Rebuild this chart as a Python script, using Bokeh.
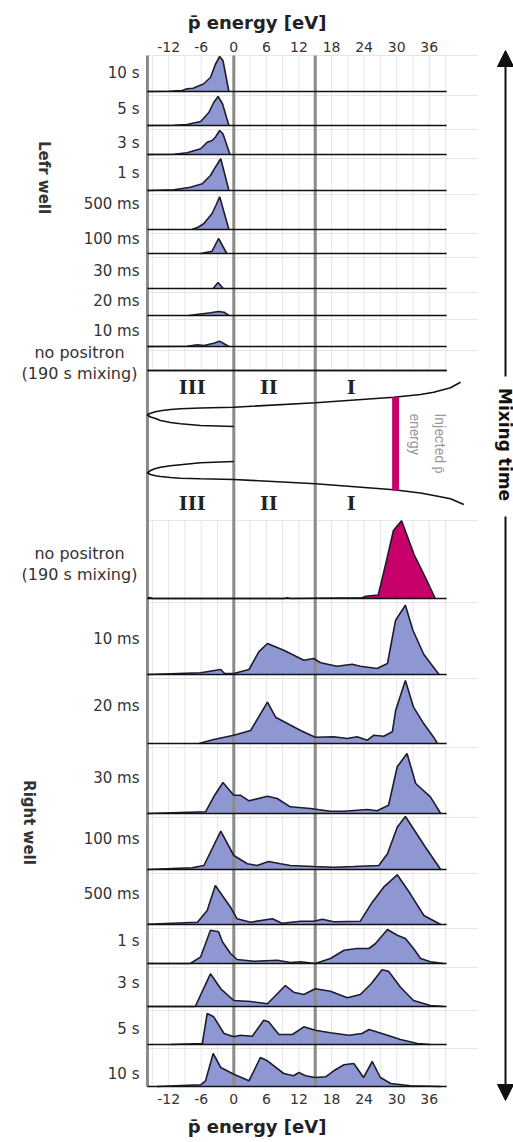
import numpy as np
from bokeh.plotting import figure
from bokeh.models import Range1d, LinearAxis, FixedTicker, Arrow, NormalHead
from bokeh.core.properties import value
from bokeh.embed import file_html
from bokeh.resources import INLINE

# ---------------------------------------------------------------- data
# energy axis (eV)
energy_ticks = [-12, -6, 0, 6, 12, 18, 24, 30, 36]
region_walls = [0, 15]            # III | II | I boundaries
injected_energy = 29.8            # injected antiproton energy

# Left well spectra: energies (eV) and counts (a.u.)
L10s_E = [-15.9, -12.0, -9.5, -8.6, -7.5, -5.6, -4.3, -3.4, -2.6, -2.0, -0.9]
L10s_C = [0, 0.3, 1.0, 2.8, 3.3, 7.5, 14, 27, 35, 31, 0]
L5s_E = [-15.9, -11.0, -8.6, -6.1, -4.6, -3.7, -2.9, -2.1, -0.9]
L5s_C = [0, 0.2, 1.0, 4.0, 13, 23, 29, 22, 0]
L3s_E = [-15.9, -11.0, -8.6, -6.1, -4.9, -4.0, -3.4, -2.6, -2.0, -0.7]
L3s_C = [0, 0.2, 1.7, 5.7, 12.3, 14, 17.3, 24, 20.7, 0]
L1s_E = [-15.9, -11.0, -8.0, -5.8, -4.3, -3.4, -2.4, -0.9]
L1s_C = [0, 0.7, 3.3, 6.7, 15, 23.3, 31.7, 0]
L500ms_E = [-7.7, -6.5, -5.5, -4.0, -3.3, -2.6, -0.9]
L500ms_C = [0, 2.5, 6, 16, 24, 32.7, 0]
L100ms_E = [-6.1, -4.0, -2.8, -1.3]
L100ms_C = [0, 2.3, 15, 0]
L30ms_E = [-3.8, -2.9, -1.95]
L30ms_C = [0, 6, 0]
L20ms_E = [-8.3, -4.3, -2.8, -1.8, -0.9]
L20ms_C = [0, 2.7, 4, 3.3, 0]
L10ms_E = [-15.9, -8.6, -6.7, -5.5, -3.7, -2.6, -0.9]
L10ms_C = [0, 0.3, 1.7, 1, 3.3, 5.3, 0]
LNP_E = [-15.9, 39.2]
LNP_C = [0, 0]

# Right well spectra
RNP_E = [-15.9, -15.5, -15.0, 9.3, 9.8, 10.5, 23.6, 24.3, 26.6, 28.0, 29.4, 30.9, 33.2, 35.2, 37.1]
RNP_C = [0, 1, 0, 0, 0.7, 0, 0.7, 2.3, 3.5, 35, 68, 77.7, 44, 22, 0]
R10ms_E = [-15.9, -6.1, -2.4, -1.7, 0.0, 2.8, 4.6, 6.2, 9.2, 12.9, 14.7, 16.0, 19.0, 21.8,
           23.3, 26.4, 28.3, 29.8, 31.6, 33.0, 35.0, 37.8]
R10ms_C = [0, 1.7, 5, 1, 1, 5, 22.7, 31, 24.3, 14.3, 16, 11.7, 8.3, 10.3,
           8.3, 6, 11, 54.3, 69.3, 44, 20, 0]
R20ms_E = [-6.4, -3.7, 0.0, 3.1, 6.2, 7.7, 12.3, 15.0, 18.4, 20.9, 22.7, 24.6, 25.8, 27.6,
           29.2, 29.8, 31.6, 33.1, 35.0, 36.8, 37.5]
R20ms_C = [0, 4, 8.3, 13, 41.3, 26.3, 13, 6.3, 6.7, 5, 6.7, 3.3, 8.3, 7.3,
           11.7, 33, 63, 36.3, 19.7, 6.3, 0]
R30ms_E = [-15.9, -5.2, -3.7, -2.0, 0.0, 1.2, 2.8, 6.2, 8.0, 10.4, 14.1, 17.8, 20.3, 24.6,
           26.4, 28.5, 30.1, 31.9, 33.5, 36.2, 38.1]
R30ms_C = [0, 1.7, 16.7, 31, 18.3, 18.3, 12.7, 17.3, 15, 6.7, 5, 2.3, 2.3, 4,
           2.7, 8.3, 46.7, 60, 30, 16.7, 0]
R100ms_E = [-15.9, -7.7, -5.5, -2.4, 0.0, 2.5, 4.3, 6.4, 8.6, 10.4, 14.7, 18.4, 22.1, 26.7,
            28.3, 30.1, 31.6, 35.3, 38.1]
R100ms_C = [0, 1.7, 4, 38.3, 14, 5.7, 4, 8, 5.7, 4, 3, 2.3, 3, 4,
            15.7, 42.3, 53, 22.3, 0]
R500ms_E = [-15.9, -6.7, -4.9, -3.4, -0.6, 0.6, 3.1, 7.1, 8.9, 12.3, 14.7, 16.3, 18.4, 23.3,
            25.3, 27.6, 30.1, 32.5, 35.0, 38.1]
R500ms_C = [0.3, 2.3, 14, 39, 17.3, 5.7, 2.3, 5.7, 1.3, 3.3, 3.3, 5.3, 2.7, 3.3,
            20.7, 37.3, 49.7, 30.7, 9, 0]
R1s_E = [-15.9, -8.0, -6.1, -4.3, -2.8, -2.1, -0.6, 0.6, 3.7, 8.0, 10.4, 12.3, 15.0, 17.8,
         20.3, 22.7, 24.9, 26.1, 28.3, 30.1, 31.6, 33.1, 34.4, 36.2, 38.7]
R1s_C = [0, 0, 6.7, 33.3, 31.7, 21.7, 10, 4, 2.3, 3.3, 1, 1.7, 0, 5,
         13.3, 15, 15, 20, 34, 28.3, 25, 15, 5, 1.7, 0]
R3s_E = [-15.9, -7.1, -4.3, -2.4, 0.0, 3.1, 6.2, 9.5, 11.0, 12.9, 15.0, 17.8, 20.9, 23.3,
         25.3, 27.3, 28.5, 30.7, 33.1, 36.2, 38.7]
R3s_C = [0, 0, 32.7, 17.7, 6, 5, 2.7, 21, 14.3, 12, 17.7, 15.3, 8.7, 12,
         22.7, 36.7, 35.3, 19.3, 6, 1, 0]
R5s_E = [-11.7, -5.8, -4.9, -3.7, -1.8, 0.0, 1.2, 3.4, 5.5, 6.4, 8.3, 10.8, 12.9, 15.0,
         17.8, 21.2, 23.6, 24.9, 28.3, 30.7, 33.8, 36.2]
R5s_C = [0, 1, 31, 27.7, 11, 7.7, 9.3, 8.3, 24.3, 22.7, 10, 10, 17.7, 14.3,
         11.7, 9.3, 11, 15, 9.3, 5, 1, 0]
R10s_E = [-14.1, -6.1, -5.2, -3.8, -2.4, 0.0, 2.8, 4.9, 6.2, 9.2, 11.0, 12.0, 13.2, 15.0,
          16.9, 18.4, 20.3, 22.1, 23.9, 25.5, 27.0, 28.9, 32.5, 38.1]
R10s_C = [0, 1.7, 5.7, 33, 19, 12.3, 5.7, 29, 25.7, 13, 10.7, 14, 10.7, 9,
          9.7, 15.7, 21.7, 23, 9, 25, 9, 3, 0.7, 0]

left_labels = ["10 s", "5 s", "3 s", "1 s", "500 ms", "100 ms", "30 ms", "20 ms", "10 ms", None]
left_spectra = [(L10s_E, L10s_C), (L5s_E, L5s_C), (L3s_E, L3s_C), (L1s_E, L1s_C),
                (L500ms_E, L500ms_C), (L100ms_E, L100ms_C), (L30ms_E, L30ms_C),
                (L20ms_E, L20ms_C), (L10ms_E, L10ms_C), (LNP_E, LNP_C)]
right_labels = [None, "10 ms", "20 ms", "30 ms", "100 ms", "500 ms", "1 s", "3 s", "5 s", "10 s"]
right_spectra = [(RNP_E, RNP_C), (R10ms_E, R10ms_C), (R20ms_E, R20ms_C), (R30ms_E, R30ms_C),
                 (R100ms_E, R100ms_C), (R500ms_E, R500ms_C), (R1s_E, R1s_C),
                 (R3s_E, R3s_C), (R5s_E, R5s_C), (R10s_E, R10s_C)]

# schematic trap potential (energy in eV vs. position along the trap)
POT_UPPER_E = [0.0, -6.13, -9.82, -11.66, -13.50, -14.42, -15.33, -15.95, -15.33, -14.42,
               -13.50, -11.66, -9.82, -6.13, 0.0, 15.05, 29.47, 34.38, 36.83, 39.91, 41.75]
POT_UPPER_Z = [426, 425, 423.3, 422, 420, 418, 416.5, 414.3, 412.7, 411.3,
               410.2, 409, 408.3, 407.5, 406.7, 402.3, 396.7, 394, 391.7, 387.3, 381.7]
POT_LOWER_E = [0.0, -6.13, -9.82, -11.66, -13.50, -14.42, -15.33, -15.95, -15.33, -14.42,
               -13.50, -11.66, -9.82, -6.13, 0.0, 15.05, 29.47, 34.38, 36.83, 39.91, 42.36]
POT_LOWER_Z = [461, 462.3, 464.3, 465.3, 466.7, 468, 470, 472.3, 474, 475.2,
               476, 477, 477.7, 478.3, 479, 483.3, 489.3, 492.5, 495, 498.3, 504]

# ---------------------------------------------------------------- layout
W, H = 513, 1142
PX_PER_EV = 5.43
ZERO_PX = 233.3
E_LEFT, E_RIGHT = -15.9, 39.2
E_GRID_RIGHT = 44.9
TOP, BOTTOM = 55, 1086
GAP_TOP, GAP_BOTTOM = 370, 520           # schematic potential band

left_base = [91, 125, 154, 190, 229, 253, 288, 315, 346, 370]
right_base = [598, 674, 743, 813, 869, 924, 963, 1006, 1044, 1086]
left_label_y = [72, 108, 142, 172, 203, 238, 270, 300, 330, None]
right_label_y = [None, 638, 705, 777, 838, 893, 940, 982, 1028, 1073]

FILL = "#8f97d3"
MAGENTA = "#c8006a"
EDGE = "#1c1c2c"
TEXT = "#333333"
FAINT = "#e6e6e6"
WALL = "#8a8a8a"

p = figure(width=W, height=H,
           x_range=Range1d(-ZERO_PX / PX_PER_EV, (W - ZERO_PX) / PX_PER_EV),
           y_range=Range1d(H, 0),
           output_backend="svg", toolbar_location=None,
           x_axis_type=None, y_axis_type=None, min_border=0,
           outline_line_color=None, background_fill_color="white",
           border_fill_color="white")
p.extra_x_ranges = {"px": Range1d(0, W)}
p.xgrid.visible = False
p.ygrid.visible = False

# faint panel grid
grid_e = [e for e in range(-15, 40, 3) if e not in region_walls]
for y0, y1 in [(TOP, GAP_TOP), (GAP_BOTTOM, BOTTOM)]:
    p.segment(x0=grid_e, y0=[y0] * len(grid_e), x1=grid_e, y1=[y1] * len(grid_e),
              line_color=FAINT, line_width=1)
panel_tops = [TOP] + [b + 4 for b in left_base[:-1]] + [GAP_BOTTOM] + [b + 4 for b in right_base[:-1]]
p.segment(x0=[E_LEFT] * len(panel_tops), y0=panel_tops,
          x1=[E_GRID_RIGHT] * len(panel_tops), y1=panel_tops,
          line_color=FAINT, line_width=1)

# spectra fills
for bases, spectra, fill in [(left_base, left_spectra, FILL), (right_base, right_spectra, None)]:
    for i, (b, (e, c)) in enumerate(zip(bases, spectra)):
        col = fill if fill else (MAGENTA if i == 0 else FILL)
        top = [b - v for v in c]
        p.varea(x=e, y1=[b] * len(e), y2=top, fill_color=col)

# region walls
walls = [E_LEFT] + region_walls
p.segment(x0=walls, y0=[TOP] * 3, x1=walls, y1=[BOTTOM] * 3, line_color=WALL, line_width=3)

# spectra outlines and baselines
for bases, spectra in [(left_base, left_spectra), (right_base, right_spectra)]:
    for b, (e, c) in zip(bases, spectra):
        p.line(x=e, y=[b - v for v in c], line_color=EDGE, line_width=1.6)
    p.segment(x0=[E_LEFT] * len(bases), y0=bases, x1=[E_RIGHT] * len(bases), y1=bases,
              line_color="#111111", line_width=1.6)

# trap potential schematic
p.line(x=POT_UPPER_E, y=POT_UPPER_Z, line_color="#111111", line_width=1.6)
p.line(x=POT_LOWER_E, y=POT_LOWER_Z, line_color="#111111", line_width=1.6)
p.segment(x0=[injected_energy], y0=[396.7], x1=[injected_energy], y1=[490],
          line_color=MAGENTA, line_width=7)


def put_text(x, y, txt, size, align="right", bold=False, angle=0.0,
             font="DejaVu Sans", color=TEXT):
    p.text(x=[x], y=[y], text=[txt], x_range_name="px", text_align=align,
           text_baseline="middle", text_font=value(font), text_font_size=size,
           text_font_style="bold" if bold else "normal", angle=angle, text_color=color)


for lab, y in zip(left_labels, left_label_y):
    if lab:
        put_text(139, y, lab, "15px")
for lab, y in zip(right_labels, right_label_y):
    if lab:
        put_text(139, y, lab, "15px")
for y0 in (352, 553):
    put_text(79, y0, "no positron", "16px", align="center")
    put_text(79, y0 + 21, "(190 s mixing)", "16px", align="center")

put_text(43, 177, "Lefr well", "15px", align="center", bold=True, angle=-np.pi / 2)
put_text(28.5, 822, "Right well", "15px", align="center", bold=True, angle=-np.pi / 2)

# region numerals
for yy in (386, 502):
    for xx, name in zip([191.7, 268.3, 350.7], ["III", "II", "I"]):
        put_text(xx, yy, name, "19px", align="center", bold=True,
                 font="DejaVu Serif", color="#222222")

put_text(439, 413, "Injected p\u0304", "14px", align="left", angle=-np.pi / 2,
         font="Roboto", color="#999999")
put_text(414, 413, "energy", "14px", align="left", angle=-np.pi / 2,
         font="Roboto", color="#999999")

# mixing-time arrow
ARROW_X = 505
p.add_layout(Arrow(end=NormalHead(size=16, fill_color="#111111", line_color="#111111"),
                   x_start=ARROW_X, y_start=376, x_end=ARROW_X, y_end=50,
                   line_color="#111111", line_width=2, x_range_name="px"))
p.add_layout(Arrow(end=NormalHead(size=16, fill_color="#111111", line_color="#111111"),
                   x_start=ARROW_X, y_start=516, x_end=ARROW_X, y_end=1100,
                   line_color="#111111", line_width=2, x_range_name="px"))
put_text(ARROW_X - 1, 444, "Mixing time", "17px", align="center", bold=True,
         angle=-np.pi / 2, color="#111111")

# energy axes (plain hyphen for negative tick labels)
tick_text = {t: str(t) for t in energy_ticks}
for side, loc, lab_so, title_so in [("above", TOP, 4, 6), ("below", BOTTOM, 7, 9)]:
    ax = LinearAxis(fixed_location=loc, ticker=FixedTicker(ticks=energy_ticks),
                    axis_label="p\u0304 energy [eV]", major_label_overrides=tick_text)
    ax.axis_line_color = None
    ax.major_tick_line_color = None
    ax.minor_tick_line_color = None
    ax.major_tick_out = 0
    ax.major_label_standoff = lab_so
    ax.major_label_text_font = "DejaVu Sans"
    ax.major_label_text_font_size = "14px"
    ax.major_label_text_color = TEXT
    ax.axis_label_standoff = title_so
    ax.axis_label_text_font = "DejaVu Sans"
    ax.axis_label_text_font_style = "bold"
    ax.axis_label_text_font_size = "18px"
    ax.axis_label_text_color = "#222222"
    p.add_layout(ax, side)

open("out.html", "w").write(file_html(p, INLINE))
